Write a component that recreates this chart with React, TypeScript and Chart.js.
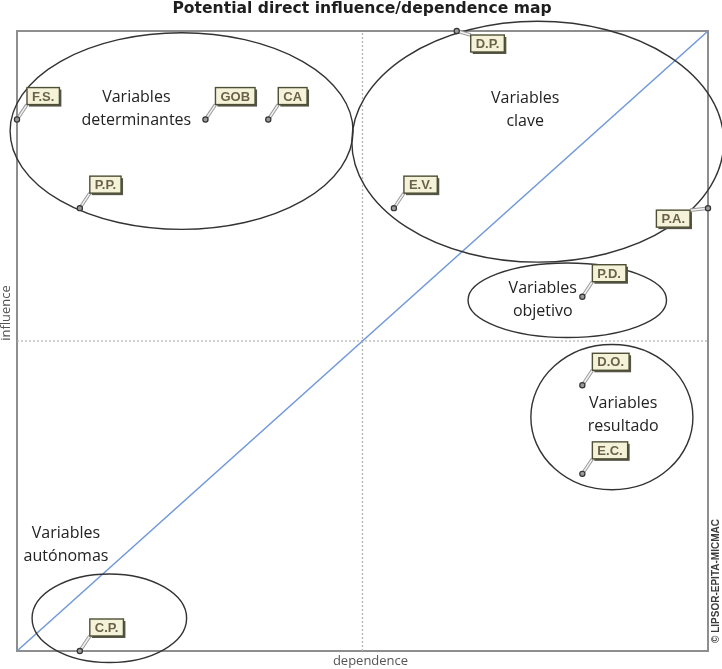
import React, { useEffect, useRef } from "react";
import { Chart, registerables } from "chart.js";

Chart.register(...registerables);

// ---- data ----
const variables = ["F.S.", "GOB", "CA", "P.P.", "E.V.", "D.P.", "P.A.", "P.D.", "D.O.", "E.C.", "C.P."];
const dependence = [0, 3, 4, 1, 6, 7, 11, 9, 9, 9, 1];
const influence = [6, 6, 6, 5, 5, 7, 5, 4, 3, 2, 0];
const labelPlacement = ["ne", "ne", "ne", "ne", "ne", "se", "sw", "ne", "ne", "ne", "ne"];

const dependenceRange = [0, 11];
const influenceRange = [0, 7];
const meanDependence = 5.5;
const meanInfluence = 3.5;

// ---- zones (ellipses in data units) ----
const zoneNames = [
  ["Variables", "determinantes"],
  ["Variables", "clave"],
  ["Variables", "objetivo"],
  ["Variables", "resultado"],
  ["Variables", "autónomas"],
];
const zoneCenterX = [2.62, 8.29, 8.76, 9.47, 1.47];
const zoneCenterY = [5.87, 5.75, 3.96, 2.64, 0.37];
const zoneRadiusX = [2.73, 2.96, 1.58, 1.29, 1.23];
const zoneRadiusY = [1.11, 1.36, 0.42, 0.82, 0.5];
const zoneTextX = [1.9, 8.09, 8.37, 9.65, 0.78];
const zoneTextY = [6.25, 6.24, 4.09, 2.79, 1.33];

const TITLE = "Potential direct influence/dependence map";
const X_TITLE = "dependence";
const Y_TITLE = "influence";
const WATERMARK = "© LIPSOR-EPITA-MICMAC";

const decorPlugin = {
  id: "micmacDecor",
  beforeDatasetsDraw(chart: any) {
    const { ctx, chartArea: a } = chart;
    ctx.save();
    ctx.strokeStyle = "#8e8e8e";
    ctx.lineWidth = 2;
    ctx.strokeRect(a.left, a.top, a.right - a.left, a.bottom - a.top);
    ctx.restore();
  },
  afterDatasetsDraw(chart: any) {
    const { ctx, chartArea: a } = chart;
    const xs = chart.scales.x;
    const ys = chart.scales.y;
    ctx.save();

    // ellipses
    ctx.strokeStyle = "#333";
    ctx.lineWidth = 1.4;
    for (let i = 0; i < zoneNames.length; i++) {
      const cx = xs.getPixelForValue(zoneCenterX[i]);
      const cy = ys.getPixelForValue(zoneCenterY[i]);
      const rx = Math.abs(xs.getPixelForValue(zoneCenterX[i] + zoneRadiusX[i]) - cx);
      const ry = Math.abs(ys.getPixelForValue(zoneCenterY[i] + zoneRadiusY[i]) - cy);
      ctx.beginPath();
      ctx.ellipse(cx, cy, rx, ry, 0, 0, Math.PI * 2);
      ctx.stroke();
    }

    // zone texts
    ctx.fillStyle = "#222";
    ctx.font = '500 16px "Open Sans"';
    ctx.textAlign = "center";
    ctx.textBaseline = "middle";
    for (let i = 0; i < zoneNames.length; i++) {
      const tx = xs.getPixelForValue(zoneTextX[i]);
      const ty = ys.getPixelForValue(zoneTextY[i]);
      zoneNames[i].forEach((line, j) => ctx.fillText(line, tx, ty + j * 23));
    }

    // point labels
    ctx.font = 'bold 13px "Liberation Sans"';
    for (let i = 0; i < variables.length; i++) {
      const px = xs.getPixelForValue(dependence[i]);
      const py = ys.getPixelForValue(influence[i]);
      const tw = ctx.measureText(variables[i]).width;
      const w = tw + 10;
      const h = 17;
      let bx: number, by: number, cx: number, cy: number;
      const p = labelPlacement[i];
      if (p === "se") {
        bx = px + 14; by = py + 4; cx = bx; cy = by;
      } else if (p === "sw") {
        bx = px - 18 - w; by = py + 2; cx = bx + w; cy = by;
      } else {
        bx = px + 10; by = py - 15 - h; cx = bx; cy = by + h;
      }
      // connector
      ctx.beginPath();
      ctx.moveTo(px, py);
      ctx.lineTo(cx, cy);
      ctx.strokeStyle = "#9a9a9a";
      ctx.lineWidth = 3.5;
      ctx.stroke();
      ctx.strokeStyle = "#f2f2f2";
      ctx.lineWidth = 1.5;
      ctx.stroke();
      // marker
      ctx.beginPath();
      ctx.arc(px, py, 2.6, 0, Math.PI * 2);
      ctx.fillStyle = "#9a9a9a";
      ctx.fill();
      ctx.strokeStyle = "#333";
      ctx.lineWidth = 1.2;
      ctx.stroke();
      // box shadow
      ctx.fillStyle = "#55554a";
      ctx.fillRect(bx + 2, by + 2, w, h);
      ctx.fillStyle = "#f4f3d9";
      ctx.fillRect(bx, by, w, h);
      ctx.strokeStyle = "#4e4e34";
      ctx.lineWidth = 1.4;
      ctx.strokeRect(bx, by, w, h);
      ctx.fillStyle = "#6a6248";
      ctx.textAlign = "center";
      ctx.textBaseline = "middle";
      ctx.fillText(variables[i], bx + w / 2, by + h / 2 + 1);
    }

    // title
    ctx.fillStyle = "#1e1e1e";
    ctx.font = 'bold 15.6px "DejaVu Sans"';
    ctx.textAlign = "center";
    ctx.textBaseline = "middle";
    ctx.fillText(TITLE, 362, 9);

    // axis titles
    ctx.fillStyle = "#555";
    ctx.font = '13px "Open Sans"';
    ctx.fillText(X_TITLE, (a.left + a.right) / 2 + 8, a.bottom + 10);
    ctx.save();
    ctx.translate(6, ys.getPixelForValue(meanInfluence) - 28);
    ctx.rotate(-Math.PI / 2);
    ctx.fillText(Y_TITLE, 0, 0);
    ctx.restore();

    // watermark
    ctx.save();
    ctx.fillStyle = "#3c3c3c";
    ctx.font = 'bold 10px "Liberation Sans"';
    ctx.translate(a.right + 8, a.bottom - 70);
    ctx.rotate(-Math.PI / 2);
    ctx.fillText(WATERMARK, 0, 0);
    ctx.restore();

    ctx.restore();
  },
};

export default function App() {
  const ref = useRef<HTMLCanvasElement | null>(null);

  useEffect(() => {
    if (!ref.current) return;
    const points = variables.map((_, i) => ({ x: dependence[i], y: influence[i] }));
    const chart = new Chart(ref.current, {
      type: "scatter",
      data: {
        datasets: [
          {
            type: "line",
            data: [
              { x: dependenceRange[0], y: influenceRange[0] },
              { x: dependenceRange[1], y: influenceRange[1] },
            ],
            borderColor: "#7199d9",
            borderWidth: 1.4,
            pointRadius: 0,
            fill: false,
          } as any,
          {
            type: "line",
            data: [
              { x: meanDependence, y: influenceRange[0] },
              { x: meanDependence, y: influenceRange[1] },
            ],
            borderColor: "#b4b4b4",
            borderWidth: 1.3,
            borderDash: [2, 2],
            pointRadius: 0,
          } as any,
          {
            type: "line",
            data: [
              { x: dependenceRange[0], y: meanInfluence },
              { x: dependenceRange[1], y: meanInfluence },
            ],
            borderColor: "#b4b4b4",
            borderWidth: 1.3,
            borderDash: [2, 2],
            pointRadius: 0,
          } as any,
          {
            data: points,
            pointRadius: 0,
            clip: false,
          } as any,
        ],
      },
      options: {
        animation: false,
        responsive: false,
        layout: { padding: { left: 17, right: 14, top: 31, bottom: 18 } },
        plugins: { legend: { display: false }, tooltip: { enabled: false }, title: { display: false } },
        scales: {
          x: { type: "linear", min: dependenceRange[0], max: dependenceRange[1], display: false },
          y: { type: "linear", min: influenceRange[0], max: influenceRange[1], display: false },
        },
      },
      plugins: [decorPlugin],
    });
    return () => chart.destroy();
  }, []);

  return (
    <div style={{ position: "fixed", left: 0, top: 0, width: 722, height: 669, background: "#fff" }}>
      <canvas ref={ref} width={722} height={669} style={{ width: 722, height: 669 }} />
    </div>
  );
}
